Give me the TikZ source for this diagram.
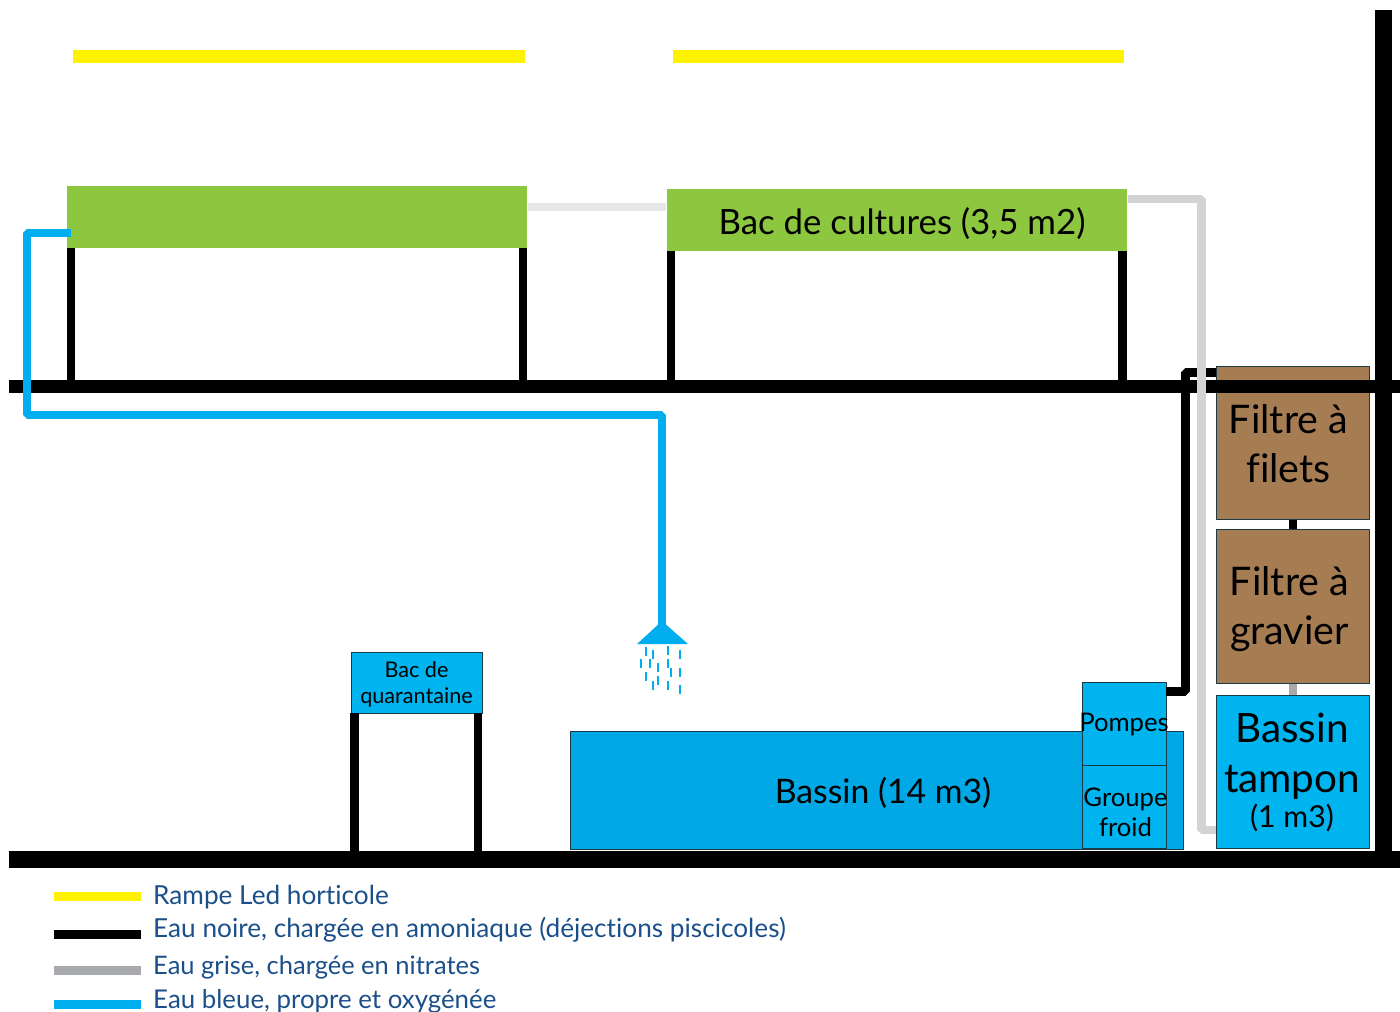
\documentclass[tikz,border=0pt]{standalone}
\usepackage{fontspec}
\setmainfont[Ligatures=NoCommon]{Lato}
\usetikzlibrary{calc}
\definecolor{ledyellow}{HTML}{FFF200}
\definecolor{cropgreen}{HTML}{8DC63F}
\definecolor{tankblue}{HTML}{00A8E6}
\definecolor{boxblue}{HTML}{00B4EF}
\definecolor{cleanblue}{HTML}{00AEEF}
\definecolor{filterbrown}{HTML}{A67C52}
\definecolor{greypipe}{HTML}{D1D3D4}
\definecolor{greypale}{HTML}{E6E7E8}
\definecolor{greydark}{HTML}{A7A9AC}
\definecolor{legendink}{HTML}{1B4F8A}
\definecolor{boxedge}{HTML}{1A3A45}
\newcommand{\sz}[2]{\fontsize{#1}{#2}\selectfont}
\tikzset{
  plainbox/.style={inner sep=0pt, align=center, text=black},
  tankbox/.style={plainbox, draw=boxedge, line width=0.25pt},
  blackpipe/.style={draw=black, line width=2.55pt},
  greyline/.style={draw=greypipe, line width=2.5pt},
  bluepipe/.style={draw=cleanblue, line width=2.45pt},
  drop/.style={draw=cleanblue, line width=0.55pt},
  legendtext/.style={anchor=west, inner sep=0pt, text=legendink, font=\sz{7.45}{9}},
}
\begin{document}
\begin{tikzpicture}[x=0.01cm, y=-0.01cm, line join=bevel]
\useasboundingbox (0,0) rectangle (1400,1011);

% ---------------- led ramps ----------------
\fill[ledyellow] (73,49.5) rectangle (524.5,62.5);
\fill[ledyellow] (673,49.5) rectangle (1124,62.5);

% ---------------- boxes ----------------
\node[plainbox, fill=cropgreen, minimum width=4.6cm, minimum height=0.62cm] (bacgauche) at (297,217) {};
\node[plainbox, fill=cropgreen, minimum width=4.6cm, minimum height=0.62cm] (bacdroite) at (897,220) {};
\node[tankbox, fill=boxblue, minimum width=1.31cm, minimum height=0.61cm] (quarantaine) at (416.5,682.5) {};
\node[tankbox, fill=tankblue, minimum width=6.13cm, minimum height=1.18cm] (bassin) at (877,790.5) {};
\node[tankbox, fill=boxblue, minimum width=0.84cm, minimum height=0.83cm] (pompes) at (1124,723.5) {};
\node[tankbox, fill=boxblue, minimum width=0.84cm, minimum height=0.83cm] (groupe) at (1124,806.5) {};
\node[tankbox, fill=filterbrown, minimum width=1.53cm, minimum height=1.53cm] (filets) at (1292.5,442.5) {};
\node[tankbox, fill=filterbrown, minimum width=1.53cm, minimum height=1.54cm] (gravier) at (1292.5,606) {};
\node[tankbox, fill=boxblue, minimum width=1.53cm, minimum height=1.53cm] (tampon) at (1292.5,771.5) {};

% ---------------- coordinates of the floors ----------------
\coordinate (etage) at (0,386.5);
\coordinate (sol) at (0,855);

% ---------------- legs ----------------
\coordinate (piedA) at (71,248);
\coordinate (piedB) at (523,248);
\coordinate (piedC) at (671,251);
\coordinate (piedD) at (1122.5,251);
\coordinate (piedE) at (354.5,713);
\coordinate (piedF) at (478,713);
\foreach \pied in {piedA,piedB,piedC,piedD}
  \draw[blackpipe] (\pied) -- (\pied |- etage);
\foreach \pied in {piedE,piedF}
  \draw[blackpipe, line width=2.4pt] (\pied) -- (\pied |- sol);

% ---------------- floors and wall ----------------
\fill[black] (9,380) rectangle (1400,393);
\fill[black] (9,851) rectangle (1400,868);
\fill[black] (1375,10) rectangle (1392,851);

% ---------------- water circuit ----------------
\coordinate (retour) at (1185,372.5);
\draw[blackpipe] (pompes.east |- 0,691) -- (1185,691) -- (retour) -- (filets.west |- retour);
\draw[blackpipe, line width=2.3pt] (filets.south -| 1293,0) -- (gravier.north -| 1293,0);
\draw[draw=greydark, line width=2.3pt] (gravier.south -| 1293,0) -- (tampon.north -| 1293,0);
\draw[draw=greypale, line width=2.3pt] (bacgauche.east |- 0,207) -- (bacdroite.west |- 0,207);
\draw[greyline] (bacdroite.east |- 0,199) -- (1201.5,199) -- (1201.5,830) -- (tampon.west |- 0,830);
\coordinate (douche) at (662,625);
\draw[bluepipe] (71,233) -- (27,233) -- (27,415) -- (662,415) -- (douche);

% ---------------- shower ----------------
\fill[cleanblue] (637,644) -- (662,621) -- (688,644) -- cycle;
\foreach \dx/\dy in {646/647, 653/650, 668/646, 680/650, 641/659, 650/659, 658/663, 668/659,
                     671/668, 680/668, 646/672, 658/676, 653/681, 668/681, 680/685}
  \draw[drop] (\dx,\dy) -- ++(0,9);

% ---------------- texts over the floors ----------------
\node[plainbox, font=\sz{9.9}{12}] (txtcultures) at (902,224) {Bac de cultures (3,5 m2)};
\node[plainbox, font=\sz{6.15}{7.5}] (txtquarantaine) at (416.5,684.5) {Bac de\\quarantaine};
\node[plainbox, font=\sz{9.6}{12}] (txtbassin) at (883,793) {Bassin (14 m3)};
\node[plainbox, font=\sz{11.2}{14}] (txtfilets) at (1288.5,444) {Filtre à\\filets};
\node[plainbox, font=\sz{11.2}{14}] (txtgravier) at (1289.5,609) {Filtre à\\gravier};
\node[plainbox, font=\sz{11.5}{14.2}] (txttampon) at (1292,756) {Bassin\\tampon};
\node[plainbox, font=\sz{8.6}{10}] (txtvolume) at (1292,818) {(1 m3)};
\node[plainbox, font=\sz{7.3}{8.5}] (txtpompes) at (1124,724) {Pompes};
\node[plainbox, font=\sz{7.3}{8.5}] (txtgroupe) at (1125.5,812) {Groupe\\froid};

% ---------------- legend ----------------
\foreach \col/\ly/\ty/\sc/\lab in {ledyellow/896/897/7.45/Rampe Led horticole,
    black/934/930/7.45/{Eau noire, chargée en amoniaque (déjections piscicoles)},
    greydark/970/967/7.25/{Eau grise, chargée en nitrates},
    cleanblue/1004/1001/7.35/{Eau bleue, propre et oxygénée}}{
  \fill[\col] (54,\ly-4.5) rectangle (141,\ly+4.5);
  \node[legendtext, font=\sz{\sc}{9}] at (152.5,\ty) {\lab};
}
\end{tikzpicture}
\end{document}
